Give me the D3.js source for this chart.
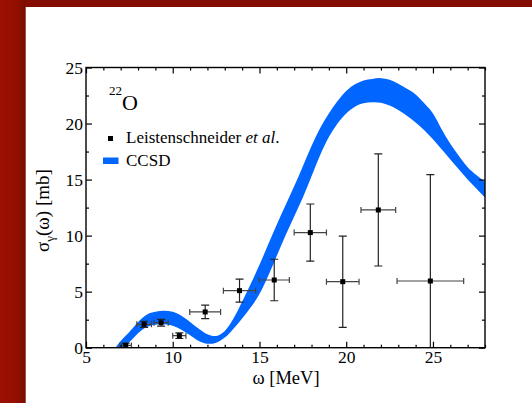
<!DOCTYPE html>
<html>
<head>
<meta charset="utf-8">
<script src="https://cdn.jsdelivr.net/npm/d3@7"></script>
<style>
  body { margin: 0; background: #fff; }
  svg { display: block; }
  text { font-family: "Liberation Serif", "Times New Roman", serif; fill: #000; }
</style>
</head>
<body>
<div id="chart"></div>
<script>
// experimental points (Leistenschneider et al.)
const omega    = [7.29, 8.35, 9.33, 10.38, 11.87, 13.85, 15.85, 17.93, 19.8, 21.85, 24.85];
const sigma    = [0.2, 2.09, 2.23, 1.07, 3.19, 5.09, 6.04, 10.27, 5.89, 12.29, 5.95];
const omegaErr = [0.33, 0.42, 0.41, 0.38, 0.89, 0.93, 0.87, 0.93, 0.94, 1.0, 1.92];
const sigmaErr = [0.2, 0.27, 0.3, 0.25, 0.6, 1.03, 1.85, 2.55, 4.07, 5.0, 9.5];

// CCSD band
const bandX     = [6.7, 7, 7.5, 8, 8.5, 9, 9.5, 10, 10.5, 11, 11.5, 12, 12.5, 13, 13.5, 14, 14.5, 15, 15.5, 16, 16.5, 17, 17.5, 18, 18.5, 19, 19.5, 20, 20.5, 21, 21.5, 22, 22.5, 23, 23.5, 24, 24.5, 25, 25.5, 26, 26.5, 27, 27.5, 28];
const bandUpper = [0, 0.6, 1.4, 2.3, 2.95, 3.2, 3.3, 3.2, 2.85, 2.3, 1.7, 1.2, 1.05, 1.5, 2.6, 4.1, 5.7, 7.4, 9.2, 11.0, 12.7, 14.4, 16.2, 18.0, 19.6, 20.9, 22.0, 22.9, 23.5, 23.85, 23.98, 24.05, 23.9, 23.55, 23.1, 22.6, 21.8, 20.9, 19.5, 18.2, 17.1, 16.1, 15.4, 14.8];
const bandLower = [0, 0, 0.5, 1.3, 1.85, 2.05, 2.1, 1.95, 1.6, 1.1, 0.6, 0.35, 0.45, 0.9, 1.7, 2.6, 3.6, 4.8, 6.4, 8.2, 10.0, 11.7, 13.4, 15.3, 17.2, 18.8, 20.0, 20.9, 21.5, 21.8, 21.9, 21.85, 21.6, 21.2, 20.7, 20.1, 19.4, 18.6, 17.7, 16.8, 15.9, 15.0, 14.2, 13.4];

const xTicks = [5, 10, 15, 20, 25];
const yTicks = [0, 5, 10, 15, 20, 25];

const W = 532, H = 403;
const mLeft = 86, mRight = 485, mTop = 67.5, mBottom = 347.7;

const svg = d3.select("#chart").append("svg")
  .attr("width", W)
  .attr("height", H);

// red page border
const defs = svg.append("defs");
const grad = defs.append("linearGradient").attr("id", "redgrad")
  .attr("x1", "0").attr("x2", "1").attr("y1", "0").attr("y2", "0");
grad.append("stop").attr("offset", "0%").attr("stop-color", "#9c1000");
grad.append("stop").attr("offset", "60%").attr("stop-color", "#950f00");
grad.append("stop").attr("offset", "100%").attr("stop-color", "#7a0c00");
svg.append("rect").attr("x", 0).attr("y", 0).attr("width", W).attr("height", 7)
  .attr("fill", "#850c00");
svg.append("rect").attr("x", 0).attr("y", 0).attr("width", 25.7).attr("height", H)
  .attr("fill", "url(#redgrad)");

defs.append("clipPath").attr("id", "plotclip")
  .append("rect").attr("x", mLeft).attr("y", mTop)
  .attr("width", mRight - mLeft).attr("height", mBottom - mTop);

const x = d3.scaleLinear().domain([5, 28]).range([mLeft, mRight]);
const y = d3.scaleLinear().domain([0, 25]).range([mBottom, mTop]);

const plot = svg.append("g").attr("clip-path", "url(#plotclip)");

// band
const band = bandX.map((v, i) => ({x: v, lo: bandLower[i], hi: bandUpper[i]}));
plot.append("path")
  .datum(band)
  .attr("fill", "#0066ff")
  .attr("d", d3.area()
    .x(d => x(d.x))
    .y0(d => y(d.lo))
    .y1(d => y(d.hi))
    .curve(d3.curveCatmullRom));

// error bars
const pts = omega.map((v, i) => ({x: v, y: sigma[i], dx: omegaErr[i], dy: sigmaErr[i]}));
const eb = plot.selectAll(".eb").data(pts).join("g").attr("class", "eb");
eb.append("line")
  .attr("x1", d => x(d.x - d.dx)).attr("x2", d => x(d.x + d.dx))
  .attr("y1", d => y(d.y)).attr("y2", d => y(d.y))
  .attr("stroke", "#444").attr("stroke-width", 1.2);
eb.append("line")
  .attr("x1", d => x(d.x)).attr("x2", d => x(d.x))
  .attr("y1", d => y(d.y - d.dy)).attr("y2", d => y(d.y + d.dy))
  .attr("stroke", "#222").attr("stroke-width", 1.2);
// caps
[-1, 1].forEach(s => {
  eb.append("line")
    .attr("x1", d => x(d.x + s * d.dx)).attr("x2", d => x(d.x + s * d.dx))
    .attr("y1", d => y(d.y) - 3).attr("y2", d => y(d.y) + 3)
    .attr("stroke", "#444").attr("stroke-width", 1.2);
  eb.append("line")
    .attr("x1", d => x(d.x) - 4).attr("x2", d => x(d.x) + 4)
    .attr("y1", d => y(d.y + s * d.dy)).attr("y2", d => y(d.y + s * d.dy))
    .attr("stroke", "#222").attr("stroke-width", 1.2);
});
eb.append("rect")
  .attr("x", d => x(d.x) - 2.5).attr("y", d => y(d.y) - 2.5)
  .attr("width", 5).attr("height", 5).attr("fill", "#000");

// axes, ticks pointing inward on all four sides
function addAxis(axis, tf, labels) {
  const g = svg.append("g").attr("transform", tf).call(axis);
  g.select(".domain").remove();
  g.selectAll(".tick line").attr("stroke", "#000").attr("stroke-width", 1.2);
  g.selectAll(".tick text").attr("font-size", 17.5).attr("font-family", "Liberation Serif").attr("fill", "#000");
  if (!labels) g.selectAll(".tick text").remove();
  return g;
}
const xMinor = d3.range(5, 29, 1).filter(v => v % 5 !== 0);
const yMinor = d3.range(0, 25, 2.5).filter(v => v % 5 !== 0);

addAxis(d3.axisBottom(x).tickValues(xTicks).tickSize(-6).tickPadding(3).tickFormat(d3.format("d")),
  `translate(0,${mBottom})`, true);
addAxis(d3.axisBottom(x).tickValues(xMinor).tickSize(-3).tickFormat(""), `translate(0,${mBottom})`, false);
addAxis(d3.axisTop(x).tickValues(xTicks).tickSize(-6).tickFormat(""), `translate(0,${mTop})`, false);
addAxis(d3.axisTop(x).tickValues(xMinor).tickSize(-3).tickFormat(""), `translate(0,${mTop})`, false);
addAxis(d3.axisLeft(y).tickValues(yTicks).tickSize(-6).tickPadding(3).tickFormat(d3.format("d")),
  `translate(${mLeft},0)`, true);
addAxis(d3.axisLeft(y).tickValues(yMinor).tickSize(-3).tickFormat(""), `translate(${mLeft},0)`, false);
addAxis(d3.axisRight(y).tickValues(yTicks).tickSize(-6).tickFormat(""), `translate(${mRight},0)`, false);
addAxis(d3.axisRight(y).tickValues(yMinor).tickSize(-3).tickFormat(""), `translate(${mRight},0)`, false);

// frame
svg.append("rect")
  .attr("x", mLeft).attr("y", mTop)
  .attr("width", mRight - mLeft).attr("height", mBottom - mTop)
  .attr("fill", "none").attr("stroke", "#000").attr("stroke-width", 1.4);

// axis titles
svg.append("text")
  .attr("x", 286).attr("y", 384)
  .attr("text-anchor", "middle").attr("font-size", 18.5)
  .text("ω [MeV]");

const yl = svg.append("text")
  .attr("transform", `translate(49,${(mTop + mBottom) / 2 + 3}) rotate(-90)`)
  .attr("text-anchor", "middle").attr("font-size", 19);
yl.append("tspan").text("σ");
yl.append("tspan").attr("font-size", 13).attr("dy", 5).text("γ");
yl.append("tspan").attr("dy", -5).text("(ω) [mb]");

// nucleus label
const nl = svg.append("text").attr("x", 109).attr("y", 110);
nl.append("tspan").attr("font-size", 13).attr("dy", -15).text("22");
nl.append("tspan").attr("font-size", 22).attr("dy", 15).text("O");

// legend
svg.append("rect").attr("x", 108).attr("y", 136).attr("width", 5).attr("height", 5).attr("fill", "#000");
const lt = svg.append("text").attr("x", 126).attr("y", 143).attr("font-size", 17);
lt.append("tspan").text("Leistenschneider ");
lt.append("tspan").attr("font-style", "italic").text("et al");
lt.append("tspan").text(".");

svg.append("rect").attr("x", 103).attr("y", 157.5).attr("width", 15.5).attr("height", 6.5).attr("fill", "#0066ff");
svg.append("text").attr("x", 126).attr("y", 166).attr("font-size", 17).text("CCSD");
</script>
</body>
</html>
